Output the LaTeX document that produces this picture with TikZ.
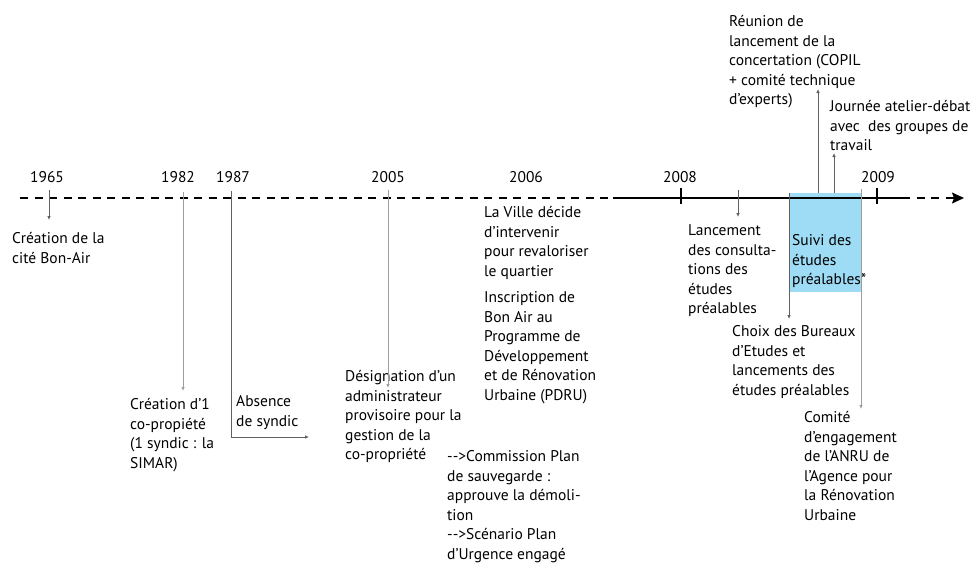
\documentclass[tikz,border=0pt]{standalone}
\usepackage{fontspec}
\setmainfont{PT Sans}
\usetikzlibrary{arrows.meta}
\definecolor{studyblue}{HTML}{9EDCF5}
\tikzset{%
  >={Latex[length=4pt,width=3.6pt]}, % small tips on the stems
  inner sep=0pt,%
  txt/.style={font=\fontsize{15.5}{19.5}\selectfont},
  event/.style={txt,anchor=north west,align=left},
  year/.style={txt,anchor=base},
  axis/.style={line width=1.4pt},
  dashed line/.style={dash pattern=on 8pt off 6.5pt},
  tick/.style={line width=1.8pt},
  stem/.style={draw=black!62,line width=0.8pt},
  light stem/.style={draw=black!38,line width=1pt}
}

\begin{document}
\begin{tikzpicture}[x=1pt,y=-1pt]
\useasboundingbox (0,0) rectangle (978,563);

%% some definitions

\def\yA{198} % height of the time axis
\def\up{11.5} % baseline to top of a line

%% box for the studies

\fill[studyblue] (789,193) rectangle (861,292);

%% time axis

\coordinate (start) at (20,\yA);
\coordinate (solidA) at (613,\yA);
\coordinate (solidB) at (902,\yA);
\coordinate (end) at (964,\yA);
\draw[axis,dashed line] (start) -- (solidA);
\draw[axis] (solidA) -- (solidB);
\draw[axis,dashed line,-{Stealth[length=12pt,width=11pt,inset=2pt]}] (solidB) -- (end);
\draw[tick] (681,188) -- (681,204);
\draw[tick] (877,188) -- (877,204);

%% years

\node[year] (y1965) at (47,182) {1965};
\node[year] (y1982) at (178,182) {1982};
\node[year] (y1987) at (233,182) {1987};
\node[year] (y2005) at (388,182) {2005};
\node[year] (y2006) at (526,182) {2006};
\node[year] (y2008) at (680,182) {2008};
\node[year] (y2009) at (878,182) {2009};

%% events below the axis

\node[event] (cite) at (12,244-\up) {Création de la\\cité Bon-Air};
\node[event] (copro) at (130,410-\up) {Création d’1\\co-propiété\\(1 syndic : la\\SIMAR)};
\node[event] (syndic) at (236,407-\up) {Absence\\de syndic};
\node[event] (admin) at (345,382-\up) {Désignation d’un\\administrateur\\provisoire pour la\\gestion de la\\co-propriété};
\node[event] (ville) at (484,218-\up) {La Ville décide\\d’intervenir\\pour revaloriser\\le quartier};
\node[event] (pdru) at (484,303-\up) {Inscription de\\Bon Air au\\Programme de\\Développement\\et de Rénovation\\Urbaine (PDRU)};
\node[event] (plan) at (447,462-\up) {-{}->Commission Plan\\de sauvegarde :\\approuve la démoli-\\tion\\-{}->Scénario Plan\\d’Urgence engagé};
\node[event] (consult) at (688,236-\up) {Lancement\\des consulta-\\tions des\\études\\préalables};
\node[event] (suivi) at (792,246-\up) {Suivi des\\études\\préalables*};
\node[event] (bureaux) at (732,337-\up) {Choix des Bureaux\\d’Etudes et\\lancements des\\études préalables};
\node[event] (anru) at (804,423-\up) {Comité\\d’engagement\\de l’ANRU de\\l’Agence pour\\la Rénovation\\Urbaine};

%% events above the axis

\node[event] (copil) at (729,27-\up) {Réunion de\\lancement de la\\concertation (COPIL\\+ comité technique\\d’experts)};
\node[event] (atelier) at (830,112-\up) {Journée atelier-débat\\avec~ des groupes de\\travail};

%% stems

\coordinate (a1965) at (49,190);  \coordinate (b1965) at (49,220);
\coordinate (a1982) at (183,192); \coordinate (b1982) at (183,391);
\coordinate (a1987) at (231,191); \coordinate (c1987) at (231,437);
\coordinate (b1987) at (309,437);
\coordinate (a2005) at (388,190); \coordinate (b2005) at (388,388);
\coordinate (a2008) at (738,190); \coordinate (b2008) at (738,217);
\coordinate (aL) at (789,193);    \coordinate (bL) at (789,319);
\coordinate (aR) at (861,189);    \coordinate (bR) at (861,409);
\coordinate (aC) at (818,193);    \coordinate (bC) at (818,89);
\coordinate (aJ) at (834,193);    \coordinate (bJ) at (834,153);

\draw[stem,->] (a1965) -- (b1965);
\draw[light stem,->] (a1982) -- (b1982);
\draw[stem,->] (a1987) -- (c1987) -- (b1987);
\draw[light stem,->] (a2005) -- (b2005);
\draw[stem,->] (a2008) -- (b2008);
\draw[stem,->] (aL) -- (bL);
\draw[light stem,->] (aR) -- (bR);
\draw[stem,->] (aC) -- (bC);
\draw[stem,->] (aJ) -- (bJ);
\end{tikzpicture}
\end{document}
